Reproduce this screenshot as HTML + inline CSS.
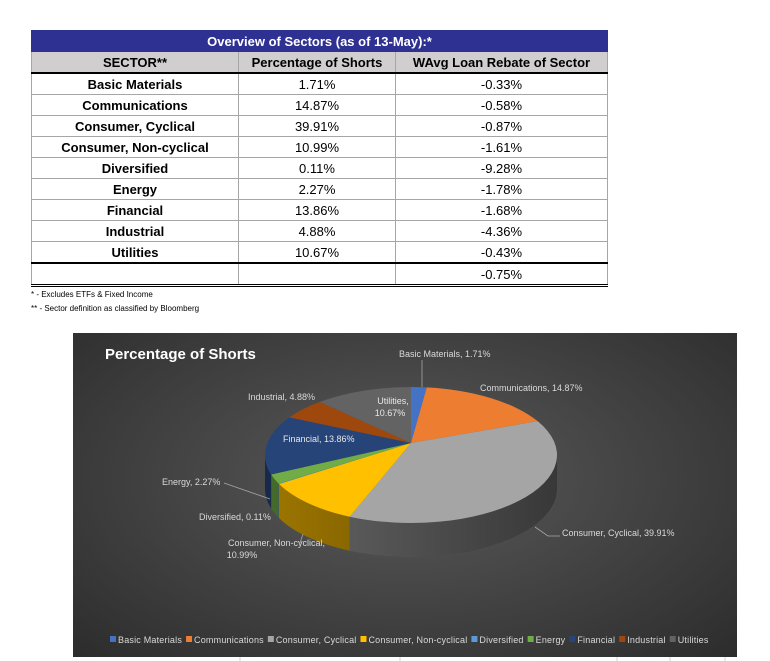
<!DOCTYPE html>
<html><head><meta charset="utf-8">
<style>
body{margin:0;width:770px;height:661px;background:#fff;position:relative;overflow:hidden;font-family:"Liberation Sans",sans-serif}
table{position:absolute;left:31px;top:30px;border-collapse:collapse;width:577px;font-size:13px}
td{border:1px solid #a6a6a6;text-align:center;height:20px;padding:0;color:#000}
.t td{background:#2e3192;color:#fff;font-weight:bold;height:20px;border:1px solid #2e3192}
.h td{background:#d0cece;font-weight:bold;border-bottom:2px solid #000}
td.n{font-weight:bold}
.tot td{border-top:2px solid #000;border-bottom:3px double #000}
.fn{position:absolute;left:31px;font-size:8px;color:#000}
#chart{position:absolute;left:73px;top:333px;width:664px;height:324px;background:radial-gradient(ellipse at 50% 45%,#5a5a5a 0%,#3a3a3a 70%,#2c2c2c 100%)}
svg text{font-family:"Liberation Sans",sans-serif}
</style></head><body>
<table>
<tr class="t"><td colspan="3">Overview of Sectors (as of 13-May):*</td></tr>
<tr class="h"><td style="width:206px">SECTOR**</td><td style="width:156px">Percentage of Shorts</td><td>WAvg Loan Rebate of Sector</td></tr>
<tr><td class="n">Basic Materials</td><td>1.71%</td><td>-0.33%</td></tr>
<tr><td class="n">Communications</td><td>14.87%</td><td>-0.58%</td></tr>
<tr><td class="n">Consumer, Cyclical</td><td>39.91%</td><td>-0.87%</td></tr>
<tr><td class="n">Consumer, Non-cyclical</td><td>10.99%</td><td>-1.61%</td></tr>
<tr><td class="n">Diversified</td><td>0.11%</td><td>-9.28%</td></tr>
<tr><td class="n">Energy</td><td>2.27%</td><td>-1.78%</td></tr>
<tr><td class="n">Financial</td><td>13.86%</td><td>-1.68%</td></tr>
<tr><td class="n">Industrial</td><td>4.88%</td><td>-4.36%</td></tr>
<tr><td class="n">Utilities</td><td>10.67%</td><td>-0.43%</td></tr>
<tr class="tot"><td></td><td></td><td>-0.75%</td></tr>
</table>
<div class="fn" style="top:290px">* - Excludes ETFs &amp; Fixed Income</div>
<div class="fn" style="top:304px">** - Sector definition as classified by Bloomberg</div>
<div id="chart"></div>
<svg id="svg" width="770" height="661" style="position:absolute;left:0;top:0">
<defs>
<linearGradient id="sideShade" x1="0" x2="1" y1="0" y2="0"><stop offset="0" stop-color="#000" stop-opacity="0"/><stop offset="1" stop-color="#000" stop-opacity="0.45"/></linearGradient>
</defs>
<text x="105" y="359" fill="#fff" font-size="15" font-weight="bold">Percentage of Shorts</text>
</svg>
<script>
const categories=["Basic Materials","Communications","Consumer, Cyclical","Consumer, Non-cyclical","Diversified","Energy","Financial","Industrial","Utilities"];
const values=[1.71,14.87,39.91,10.99,0.11,2.27,13.86,4.88,10.67];
const valueLabels=["1.71%","14.87%","39.91%","10.99%","0.11%","2.27%","13.86%","4.88%","10.67%"];
const colors=["#4472c4","#ed7d31","#a5a5a5","#ffc000","#5b9bd5","#70ad47","#264478","#9e480e","#636363"];
const NS="http://www.w3.org/2000/svg";
const svg=document.getElementById('svg');
const cx=411,cy=455,rx=146,ry=68,depth=34,apexY=443;
const total=values.reduce((a,b)=>a+b,0);
function ang(v){return v/total*Math.PI*2;}
function pt(a,dy){return [cx+rx*Math.sin(a),cy-ry*Math.cos(a)+(dy||0)];}
function mk(tag,attrs){const e=document.createElementNS(NS,tag);for(const k in attrs)e.setAttribute(k,attrs[k]);svg.appendChild(e);return e;}
function shade(hex,f){const n=parseInt(hex.slice(1),16);let r=n>>16,g=(n>>8)&255,b=n&255;return `rgb(${Math.round(r*f)},${Math.round(g*f)},${Math.round(b*f)})`;}
let acc=0;const slices=[];
values.forEach((v,i)=>{const a0=ang(acc);acc+=v;const a1=ang(acc);slices.push([a0,a1]);});
slices.forEach(([a0,a1],i)=>{
  const s=Math.max(a0,Math.PI/2),e=Math.min(a1,Math.PI*1.5);
  if(e<=s)return;
  const p0=pt(s),p1=pt(e),q1=pt(e,depth),q0=pt(s,depth);
  const d=`M${p0[0]},${p0[1]} A${rx},${ry} 0 0 1 ${p1[0]},${p1[1]} L${q1[0]},${q1[1]} A${rx},${ry} 0 0 0 ${q0[0]},${q0[1]} Z`;
  const side=mk('path',{d:d,fill:shade(colors[i],0.62)});
  
  
});
const sideAll=mk('path',{d:`M${cx-rx},${cy} A${rx},${ry} 0 0 0 ${cx+rx},${cy} L${cx+rx},${cy+depth} A${rx},${ry} 0 0 1 ${cx-rx},${cy+depth} Z`,fill:'url(#sideShade)'});


slices.forEach(([a0,a1],i)=>{
  const p0=pt(a0),p1=pt(a1);const large=(a1-a0)>Math.PI?1:0;
  const d=`M${cx},${apexY} L${p0[0]},${p0[1]} A${rx},${ry} 0 ${large} 1 ${p1[0]},${p1[1]} Z`;
  const s=mk('path',{d:d,fill:colors[i]});
  
  
});
const lblColor="#d9d9d9";
const labelPos=[[399,357,'start'],[480,391,'start'],[562,536,'start'],[325,546,'end'],[199,520,'start'],[162,485,'start'],[283,442,'start'],[248,400,'start'],[393,404,'middle']];
labelPos.forEach((p,i)=>{
  const t=mk('text',{x:p[0],y:p[1],fill:(i==6||i==8)?"#e8e8e8":lblColor,'font-size':9,'text-anchor':p[2]});
  
  
  if(i==3){t.textContent=categories[i]+',';const t2=mk('text',{x:242,y:558,fill:lblColor,'font-size':9,'text-anchor':'middle'});t2.textContent=valueLabels[i];}
  else if(i==8){t.textContent=categories[i]+',';const t2=mk('text',{x:390,y:416,fill:"#e8e8e8",'font-size':9,'text-anchor':'middle'});t2.textContent=valueLabels[i];}
  else t.textContent=categories[i]+', '+valueLabels[i];
});
const leaders=[[422,360,422,387],[224,483,270,499],[535,527,548,536,560,536],[300,543,303,534]];
leaders.forEach(l=>{let d=`M${l[0]},${l[1]}`;for(let k=2;k<l.length;k+=2)d+=` L${l[k]},${l[k+1]}`;const p=mk('path',{d:d,stroke:'#a6a6a6',fill:'none','stroke-width':0.8});});
let lx=110;
categories.forEach((c,i)=>{
  const r=mk('rect',{x:lx,y:636,width:6,height:6,fill:colors[i]});
  
  
  const t=mk('text',{x:lx+8,y:643,fill:lblColor,'font-size':9,'letter-spacing':'0.2'});
  
  
  t.textContent=c;
  lx+=8+t.getComputedTextLength()+4;
});
[240,400,617,670,725].forEach(x=>{const l=mk('line',{x1:x,y1:657,x2:x,y2:661,stroke:'#d0d0d0'});});
</script>
</body></html>
